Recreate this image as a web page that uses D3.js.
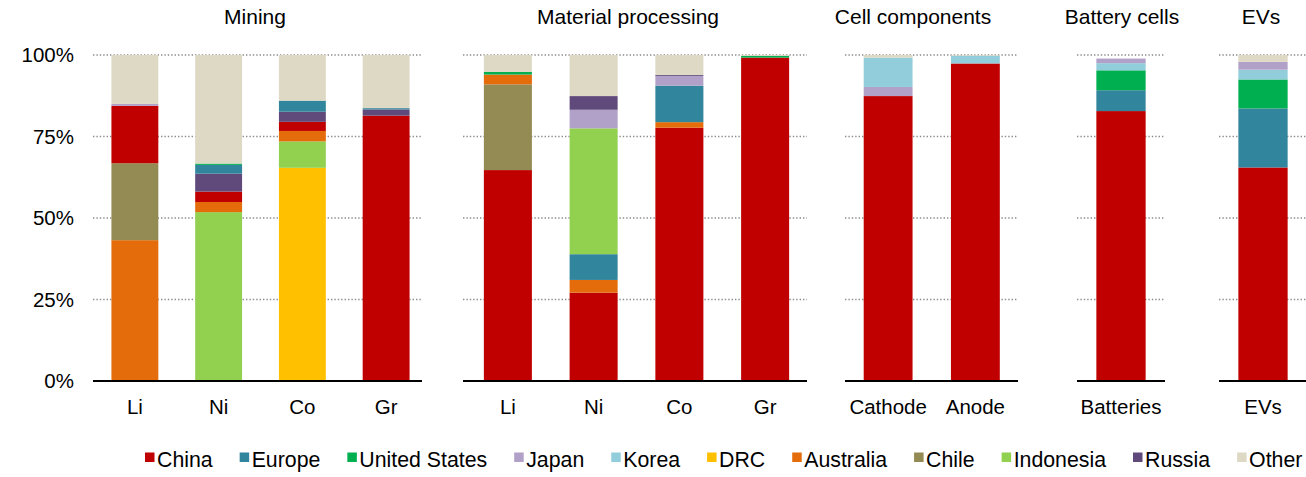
<!DOCTYPE html>
<html>
<head>
<meta charset="utf-8">
<script src="https://cdn.jsdelivr.net/npm/d3@7"></script>
<style>
  html, body { margin: 0; padding: 0; background: #fff; }
  svg { display: block; font-family: "Liberation Sans", Arial, Helvetica, sans-serif; }
</style>
</head>
<body>
<svg id="chart" width="1306" height="477"></svg>
<script>
// ---------- DATA ----------
const regions = ["China","Europe","United States","Japan","Korea","DRC","Australia","Chile","Indonesia","Russia","Other"];
const regionColors = ["#C00000","#31859C","#00B050","#B1A0C7","#92CDDC","#FFC000","#E46C0A","#948A54","#92D050","#604A7B","#DDD9C4"];

const panelTitles = ["Mining","Material processing","Cell components","Battery cells","EVs"];
const miningCats = ["Li","Ni","Co","Gr"];
const processingCats = ["Li","Ni","Co","Gr"];
const componentCats = ["Cathode","Anode"];
const batteryCats = ["Batteries"];
const evCats = ["EVs"];

// shares (%) in the order of `regions`
//                 China Europe US  Japan Korea DRC  Austr Chile Indon Russia Other
const miningLi    = [17.6, 0,   0,   0.6,  0,    0,   43.2, 23.6, 0,    0,    15.0];
const miningNi    = [3.2,  2.7, 0.4, 0,    0,    0,   3.1,  0,    51.8, 5.5,  33.3];
const miningCo    = [2.8,  3.4, 0,   0,    0,    65.4,3.2,  0,    8.1,  3.1,  14.0];
const miningGr    = [81.4, 0.4, 0,   0,    0,    0,   0,    0,    0,    1.9,  16.3];
const procLi      = [64.7, 0,   0.8, 0,    0,    0,   3.0,  26.3, 0,    0,    5.2];
const procNi      = [27.1, 7.9, 0,   5.7,  0,    0,   3.9,  0,    38.6, 4.2,  12.6];
const procCo      = [77.7, 11.2,0,   3.0,  0,    0,   1.7,  0,    0,    0.3,  6.1];
const procGr      = [99.2, 0,   0.5, 0,    0,    0,   0,    0,    0,    0,    0.3];
const cathode     = [87.4, 0,   0,   2.8,  9.0,  0,   0,    0,    0,    0,    0.8];
const anode       = [97.4, 0,   0,   0,    2.4,  0,   0,    0,    0,    0,    0.2];
const batteries   = [82.8, 6.4, 6.1, 1.4,  2.2,  0,   0,    0,    0,    0,    0];
const evs         = [65.5, 18.1,8.9, 2.4,  3.0,  0,   0,    0,    0,    0,    2.1];

// stacking order (bottom to top) per panel
const miningOrder = ["DRC","Indonesia","Australia","Chile","China","Russia","Europe","United States","Japan","Korea","Other"];
const processingOrder = ["China","Chile","Australia","Europe","Indonesia","United States","Japan","Russia","Korea","DRC","Other"];
const componentOrder = ["China","Europe","United States","Japan","Korea","Other"];
const downstreamOrder = ["China","Europe","United States","Korea","Japan","Other"];

const yTicks = [0, 25, 50, 75, 100];

// ---------- LAYOUT ----------
const svg = d3.select("#chart");
const FONT = 20.5;
const TITLE_FONT = 21;
const LEGEND_FONT = 21.3;
const y = d3.scaleLinear().domain([0, 100]).range([381, 55]);
const color = d3.scaleOrdinal().domain(regions).range(regionColors);

const panels = [
  { title: panelTitles[0], titleX: 255, cats: miningCats, bars: [miningLi, miningNi, miningCo, miningGr], order: miningOrder, range: [93, 428], line: [93, 422] },
  { title: panelTitles[1], titleX: 628, cats: processingCats, bars: [procLi, procNi, procCo, procGr], order: processingOrder, range: [465, 808], line: [463, 807] },
  { title: panelTitles[2], titleX: 913, cats: componentCats, bars: [cathode, anode], order: componentOrder, range: [844.5, 1019], line: [845, 1018] },
  { title: panelTitles[3], titleX: 1122, cats: batteryCats, bars: [batteries], order: downstreamOrder, range: [1077, 1165], line: [1077, 1165] },
  { title: panelTitles[4], titleX: 1261, cats: evCats, bars: [evs], order: downstreamOrder, range: [1219, 1307], line: [1219, 1306] }
];

// y axis labels
const yAxis = d3.axisLeft(y).tickValues(yTicks).tickSize(0).tickPadding(0).tickFormat(d => d + "%");
const yg = svg.append("g").attr("transform", "translate(74,0)").call(yAxis);
yg.select(".domain").remove();
yg.selectAll("text").attr("font-size", FONT).attr("fill", "#000")
  .attr("font-family", '"Liberation Sans", Arial, sans-serif');

panels.forEach(p => {
  const g = svg.append("g");
  const x = d3.scaleBand().domain(p.cats).range(p.range).paddingInner(0.44).paddingOuter(0.22);

  // dotted gridlines
  g.selectAll("line.grid").data(yTicks.filter(t => t > 0)).join("line")
    .attr("class", "grid")
    .attr("x1", p.line[0]).attr("x2", p.line[1])
    .attr("y1", d => y(d)).attr("y2", d => y(d))
    .attr("stroke", "#8c8c8c").attr("stroke-width", 1.4)
    .attr("stroke-dasharray", "1.4,2");

  // stacked bars
  const rows = p.cats.map((c, i) => {
    const o = { cat: c };
    regions.forEach((r, j) => o[r] = p.bars[i][j]);
    return o;
  });
  const stack = d3.stack().keys(p.order.filter(k => regions.includes(k)));
  const series = stack(rows);
  g.selectAll("g.series").data(series).join("g")
    .attr("class", "series")
    .attr("fill", d => color(d.key))
    .selectAll("rect").data(d => d.filter(s => s[1] - s[0] > 0)).join("rect")
    .attr("x", d => x(d.data.cat))
    .attr("width", x.bandwidth())
    .attr("y", d => y(d[1]))
    .attr("height", d => y(d[0]) - y(d[1]));

  // baseline
  g.append("line")
    .attr("x1", p.line[0]).attr("x2", p.line[1])
    .attr("y1", y(0)).attr("y2", y(0))
    .attr("stroke", "#000").attr("stroke-width", 2);

  // category labels
  const xAxis = d3.axisBottom(x).tickSize(0).tickPadding(0);
  const xg = g.append("g").attr("transform", "translate(0,399)").call(xAxis);
  xg.select(".domain").remove();
  xg.selectAll("text").attr("font-size", FONT).attr("fill", "#000")
    .attr("font-family", '"Liberation Sans", Arial, sans-serif');

  // panel title
  g.append("text")
    .attr("x", p.titleX).attr("y", 24)
    .attr("text-anchor", "middle")
    .attr("font-size", TITLE_FONT)
    .attr("fill", "#000")
    .text(p.title);
});

// legend
const legend = svg.append("g").attr("transform", "translate(145,0)");
let lx = 0;
regions.forEach((r, i) => {
  const item = legend.append("g").attr("transform", `translate(${lx},0)`);
  item.append("rect").attr("x", 0).attr("y", 452.5).attr("width", 9.5).attr("height", 9.5).attr("fill", regionColors[i]);
  const t = item.append("text").attr("x", 12).attr("y", 466.5).attr("font-size", LEGEND_FONT).attr("fill", "#000").text(r);
  lx += 12 + t.node().getComputedTextLength() + 27;
});
</script>
</body>
</html>
